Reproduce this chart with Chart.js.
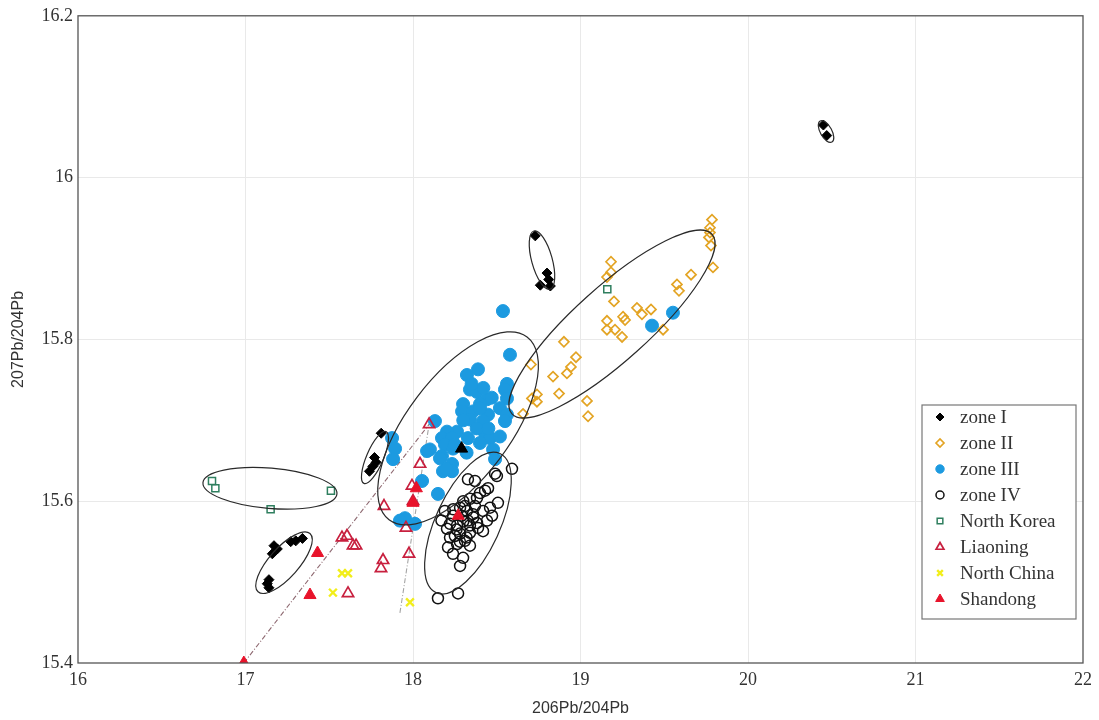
<!DOCTYPE html>
<html><head><meta charset="utf-8">
<script src="https://cdn.jsdelivr.net/npm/chart.js@4.4.1/dist/chart.umd.min.js"></script>
<style>html,body{margin:0;padding:0;background:#fff}#wrap{width:1099px;height:720px;position:relative}</style>
</head><body><div id="wrap"><canvas id="c" width="1099" height="720"></canvas></div>
<script>
// ---------- DATA ----------
const xTicks = [16, 17, 18, 19, 20, 21, 22];
const yTicks = [15.4, 15.6, 15.8, 16.0, 16.2];

const zoneI_x = [20.45,20.47,18.73,18.80,18.81,18.76,18.82,17.81,17.77,17.76,17.74,17.78,17.16,17.19,17.13,17.14,17.30,17.34,17.27,17.17,17.14];
const zoneI_y = [16.065,16.052,15.928,15.882,15.874,15.867,15.866,15.684,15.654,15.643,15.637,15.648,15.535,15.541,15.498,15.493,15.551,15.554,15.550,15.545,15.503];

const zoneII_x = [19.785,19.773,19.773,19.767,19.779,19.791,19.660,19.576,19.588,19.182,19.182,19.158,19.200,19.337,19.367,19.421,19.254,19.266,19.158,19.158,19.206,19.248,19.493,18.901,18.973,18.943,18.919,18.836,18.704,18.872,19.039,19.045,18.740,18.740,18.657,18.710];
const zoneII_y = [15.948,15.938,15.932,15.926,15.916,15.889,15.880,15.868,15.860,15.896,15.883,15.877,15.847,15.839,15.831,15.837,15.828,15.824,15.823,15.812,15.812,15.803,15.812,15.797,15.778,15.766,15.758,15.754,15.769,15.733,15.724,15.705,15.732,15.723,15.708,15.727];

const zoneIII_x = [18.537,18.579,18.388,18.322,18.561,18.549,18.340,18.382,18.442,18.561,18.299,18.400,18.293,18.358,18.519,18.448,18.561,18.340,18.418,18.549,18.131,18.263,18.203,18.173,18.233,18.328,18.430,18.460,18.519,18.400,18.191,18.239,18.101,18.478,17.875,17.893,18.173,18.233,18.490,17.881,18.179,18.233,18.149,18.054,18.084,18.161,17.952,18.012,17.922,19.427,19.552,18.350,18.420,18.300,18.380,18.450,18.250,18.320,18.200,18.400,18.470];
const zoneIII_y = [15.835,15.781,15.763,15.756,15.745,15.738,15.738,15.735,15.726,15.727,15.720,15.720,15.711,15.711,15.715,15.707,15.707,15.701,15.699,15.699,15.699,15.686,15.686,15.678,15.678,15.678,15.684,15.678,15.680,15.672,15.670,15.665,15.664,15.664,15.678,15.665,15.656,15.646,15.652,15.652,15.637,15.637,15.609,15.625,15.662,15.653,15.579,15.572,15.576,15.817,15.833,15.745,15.740,15.700,15.690,15.690,15.670,15.660,15.640,15.715,15.728];

const zoneIV_x = [18.501,18.591,18.328,18.370,18.448,18.430,18.400,18.382,18.507,18.460,18.340,18.310,18.281,18.418,18.472,18.239,18.221,18.203,18.221,18.281,18.340,18.388,18.442,18.209,18.263,18.310,18.239,18.299,18.281,18.269,18.149,18.322,18.358,18.418,18.328,18.263,18.382,18.490,18.290,18.340,18.250,18.370,18.170,18.190,18.260,18.300,18.340,18.280,18.320,18.360,18.240,18.300];
const zoneIV_y = [15.631,15.640,15.627,15.625,15.616,15.613,15.610,15.604,15.598,15.592,15.603,15.594,15.592,15.588,15.582,15.582,15.572,15.566,15.555,15.560,15.561,15.567,15.576,15.543,15.547,15.551,15.535,15.530,15.520,15.486,15.480,15.588,15.584,15.563,15.576,15.570,15.573,15.634,15.582,15.545,15.557,15.594,15.576,15.588,15.565,15.575,15.570,15.550,15.555,15.580,15.590,15.600];

const northKorea_x = [16.80,16.82,17.15,17.51,19.16];
const northKorea_y = [15.625,15.616,15.590,15.613,15.862];

const liaoning_x = [17.576,17.606,17.642,17.660,17.821,17.809,17.612,17.827,18.096,18.042,17.994,18.000,17.958,17.976];
const liaoning_y = [15.555,15.557,15.545,15.545,15.527,15.517,15.486,15.594,15.695,15.646,15.619,15.600,15.567,15.535];

const northChina_x = [17.576,17.612,17.522,17.982];
const northChina_y = [15.511,15.511,15.487,15.475];

const shandong_x = [16.99,17.43,17.385,18.00,18.02,18.27];
const shandong_y = [15.400,15.536,15.484,15.598,15.616,15.582];

const other_x = [18.29];
const other_y = [15.665];

// trend (mixing) lines
const line1_x = [16.99, 18.096];
const line1_y = [15.400, 15.695];
const line2_x = [17.922, 18.096];
const line2_y = [15.462, 15.695];

// ellipses: centre, major-axis end, minor/major ratio
const ell_cx = [20.466, 18.770, 17.773, 17.230, 17.146, 18.269, 18.328, 19.188];
const ell_cy = [16.057, 15.898, 15.654, 15.524, 15.616, 15.690, 15.573, 15.819];
const ell_ex = [20.501, 18.818, 17.707, 17.075, 17.546, 18.681, 18.519, 19.785];
const ell_ey = [16.044, 15.862, 15.622, 15.488, 15.609, 15.803, 15.659, 15.930];
const ell_ratio = [0.48, 0.34, 0.30, 0.38, 0.30, 0.45, 0.42, 0.275];

const seriesNames = ['zone I','zone II','zone III','zone IV','North Korea','Liaoning','North China','Shandong'];

// ---------- BUILD ----------
const pts = (xs, ys) => xs.map((x, i) => ({x, y: ys[i]}));

const styles = [
  {pointStyle:'rectRot', radius:5, bg:'#000', border:'#000', bw:1, lr:4},
  {pointStyle:'rectRot', radius:5, bg:'rgba(255,255,255,0)', border:'#E3A424', bw:1.7, lr:4},
  {pointStyle:'circle', radius:6.5, bg:'#1C9AE0', border:'#1C9AE0', bw:1, lr:4.2},
  {pointStyle:'circle', radius:5.5, bg:'rgba(255,255,255,0)', border:'#111', bw:1.5, lr:4},
  {pointStyle:'rect', radius:5, bg:'rgba(255,255,255,0)', border:'#2F7F5F', bw:1.5, lr:4},
  {pointStyle:'triangle', radius:6.5, bg:'rgba(255,255,255,0)', border:'#C8203F', bw:1.7, lr:4.5},
  {pointStyle:'crossRot', radius:5.5, bg:'#F2F01A', border:'#F2EE1A', bw:2.4, lr:4},
  {pointStyle:'triangle', radius:7, bg:'#E8132B', border:'#E8132B', bw:1, lr:5}
];
const seriesData = [
  pts(zoneI_x, zoneI_y), pts(zoneII_x, zoneII_y), pts(zoneIII_x, zoneIII_y), pts(zoneIV_x, zoneIV_y),
  pts(northKorea_x, northKorea_y), pts(liaoning_x, liaoning_y), pts(northChina_x, northChina_y), pts(shandong_x, shandong_y)
];
const orders = [7, 9, 10, 8, 6, 5, 4, 3];

const datasets = seriesNames.map((n, i) => ({
  label: n, data: seriesData[i], order: orders[i],
  pointStyle: styles[i].pointStyle, pointRadius: styles[i].radius,
  backgroundColor: styles[i].bg, borderColor: styles[i].border, borderWidth: styles[i].bw,
  pointBackgroundColor: styles[i].bg, pointBorderColor: styles[i].border, pointBorderWidth: styles[i].bw
}));
datasets.push({label:'_other', data: pts(other_x, other_y), order: 2, pointStyle:'triangle', pointRadius:7,
  pointBackgroundColor:'#000', pointBorderColor:'#000', borderColor:'#000', backgroundColor:'#000'});
datasets.push({label:'_line1', data: pts(line1_x, line1_y), order: 11, showLine:true, pointRadius:0,
  borderColor:'#8f6a72', borderWidth:1.1, borderDash:[5,2,1,2], fill:false});
datasets.push({label:'_line2', data: pts(line2_x, line2_y), order: 11, showLine:true, pointRadius:0,
  borderColor:'#a5a5a5', borderWidth:1.1, borderDash:[5,2,1,2], fill:false});

const ellipsePlugin = {
  id:'ellipses',
  afterDatasetsDraw(chart) {
    const {ctx, scales:{x, y}} = chart;
    ctx.save();
    ctx.strokeStyle = '#2a2a2a'; ctx.lineWidth = 1.2;
    for (let i = 0; i < ell_cx.length; i++) {
      const cx = x.getPixelForValue(ell_cx[i]), cy = y.getPixelForValue(ell_cy[i]);
      const ex = x.getPixelForValue(ell_ex[i]), ey = y.getPixelForValue(ell_ey[i]);
      const a = Math.hypot(ex - cx, ey - cy), ang = Math.atan2(ey - cy, ex - cx);
      ctx.beginPath(); ctx.ellipse(cx, cy, a, a * ell_ratio[i], ang, 0, Math.PI * 2); ctx.stroke();
    }
    ctx.restore();
  }
};

const framePlugin = {
  id:'frame',
  afterDraw(chart) {
    const {ctx, chartArea:a} = chart;
    ctx.save();
    ctx.strokeStyle = '#555'; ctx.lineWidth = 1.3;
    ctx.strokeRect(a.left, a.top, a.right - a.left, a.bottom - a.top);
    // legend
    const lx = 922, ly = 405, lw = 154, lh = 214;
    ctx.fillStyle = '#fff'; ctx.fillRect(lx, ly, lw, lh);
    ctx.strokeStyle = '#777'; ctx.lineWidth = 1.2; ctx.strokeRect(lx, ly, lw, lh);
    ctx.font = '19px "Liberation Serif", serif';
    ctx.textBaseline = 'middle'; ctx.textAlign = 'left';
    seriesNames.forEach((n, i) => {
      const yy = ly + 12 + i * 26;
      const s = styles[i];
      ctx.fillStyle = s.bg; ctx.strokeStyle = s.border; ctx.lineWidth = s.bw;
      Chart.helpers.drawPoint(ctx, {pointStyle: s.pointStyle, radius: s.lr, rotation: 0, borderWidth: s.bw}, 940, yy);
      ctx.fillStyle = '#333';
      ctx.fillText(n, 960, yy + 1);
    });
    ctx.restore();
  }
};

const fmt = v => String(parseFloat(Number(v).toFixed(1)));

new Chart(document.getElementById('c'), {
  type: 'scatter',
  data: { datasets },
  plugins: [ellipsePlugin, framePlugin],
  options: {
    responsive: false, animation: false, devicePixelRatio: 1,
    layout: { padding: { left: 0, right: 16, top: 12, bottom: 0 } },
    plugins: { legend: { display: false }, tooltip: { enabled: false } },
    scales: {
      x: {
        type: 'linear', min: xTicks[0], max: xTicks[xTicks.length - 1],
        afterBuildTicks: s => { s.ticks = xTicks.map(v => ({value: v})); },
        afterFit: s => { s.height = 57; },
        ticks: { color: '#333', font: { family: '"Liberation Serif", serif', size: 18 }, padding: 6, callback: v => fmt(v) },
        grid: { drawTicks: false, color: c => (c.tick && (c.tick.value === 16 || c.tick.value === 22)) ? 'rgba(0,0,0,0)' : '#e9e9e9' },
        border: { display: false },
        title: { display: true, text: '206Pb/204Pb', color: '#333', font: { family: '"Liberation Sans Narrow", "Liberation Sans", sans-serif', size: 16 }, padding: { top: 0, bottom: 2 } }
      },
      y: {
        type: 'linear', min: yTicks[0], max: yTicks[yTicks.length - 1],
        afterBuildTicks: s => { s.ticks = yTicks.map(v => ({value: v})); },
        afterFit: s => { s.width = 78; },
        ticks: { color: '#333', font: { family: '"Liberation Serif", serif', size: 18 }, padding: 5, callback: v => fmt(v) },
        grid: { drawTicks: false, color: c => (c.tick && (Math.abs(c.tick.value - 15.4) < 1e-6 || Math.abs(c.tick.value - 16.2) < 1e-6)) ? 'rgba(0,0,0,0)' : '#e9e9e9' },
        border: { display: false },
        title: { display: true, text: '207Pb/204Pb', color: '#333', font: { family: '"Liberation Sans Narrow", "Liberation Sans", sans-serif', size: 16 }, padding: { top: 9, bottom: 0 } }
      }
    }
  }
});
</script></body></html>
